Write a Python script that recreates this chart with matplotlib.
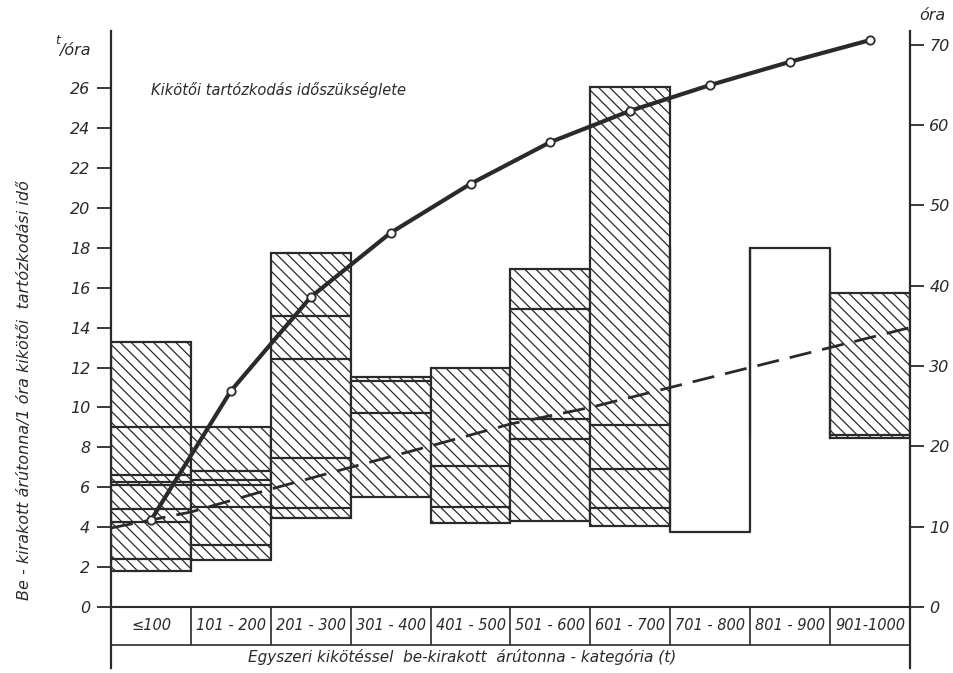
import matplotlib
matplotlib.use("Agg")
import matplotlib.pyplot as plt

plt.rcParams['font.family'] = ['DejaVu Sans']
plt.rcParams['font.style'] = 'italic'
plt.rcParams['hatch.linewidth'] = 0.9

# categories (t)
cats = ["≤100", "101 - 200", "201 - 300", "301 - 400", "401 - 500",
        "501 - 600", "601 - 700", "701 - 800", "801 - 900", "901-1000"]

# bars: low / high value (t/óra) and inner horizontal lines
bar_low = [1.8, 2.35, 4.45, 5.5, 4.2, 4.3, 4.05, 3.75, 8.45, 8.45]
bar_high = [13.3, 9.0, 17.75, 11.5, 12.0, 16.95, 26.05, 18.0, 18.0, 15.75]
bar_lines = [
    [2.4, 4.25, 4.9, 6.1, 6.25, 6.6, 9.0],
    [3.1, 5.0, 6.1, 6.35, 6.8],
    [4.95, 7.45, 12.45, 14.6],
    [9.7, 11.3],
    [5.0, 7.05],
    [8.4, 9.4, 14.95],
    [4.95, 6.9, 9.1],
    [],
    [],
    [8.6],
]
bar_hatched = [True, True, True, True, True, True, True, False, False, True]
bar_open = [None, None, None, None, None, None, None, "top", "bottom", None]

# port stay time need (óra) - right axis
stay_time = [10.8, 26.9, 38.6, 46.6, 52.7, 57.9, 61.8, 65.0, 67.9, 70.6]

# dashed line (t/óra) at category boundaries
dash_vals = [3.96, 4.76, 5.91, 7.0, 8.07, 9.17, 10.0, 11.0, 12.0, 13.0, 14.0]

ink = "#2a2a2a"

fig = plt.figure(figsize=(9.54, 6.73), dpi=100)
ax = fig.add_axes([111/954, 5/673, 799/954, 637/673])
ax.set_xlim(0, 10)
ax.set_ylim(-3.056, 28.86)

for i in range(len(cats)):
    lo, hi = bar_low[i], bar_high[i]
    if bar_hatched[i]:
        ax.bar(i, hi - lo, bottom=lo, width=1, align='edge', facecolor='white',
               edgecolor=ink, hatch='\\\\\\', linewidth=1.6, zorder=1)
    else:
        if bar_open[i] == "top":
            xs, ys = [i, i, i + 1, i + 1], [hi, lo, lo, hi]
        else:
            xs, ys = [i, i, i + 1, i + 1], [lo, hi, hi, lo]
        ax.plot(xs, ys, color=ink, lw=1.6, zorder=2)
    for v in bar_lines[i]:
        ax.hlines(v, i, i + 1, color=ink, lw=1.6, zorder=2)

# dashed line
ax.plot(range(len(dash_vals)), dash_vals, color=ink, lw=2.0,
        linestyle=(0, (8, 4)), zorder=3)

# bottom table
ax.hlines(0, 0, 10, color=ink, lw=1.5, zorder=2)
ax.hlines(-1.9, 0, 10, color=ink, lw=1.2, zorder=2)
for i in range(1, 10):
    ax.vlines(i, -1.9, 0, color=ink, lw=1.2)
for i, c in enumerate(cats):
    ax.text(i + 0.5, -0.95, c, ha='center', va='center', fontsize=10.5, color=ink)
ax.text(4.4, -2.5, "Egyszeri kikötéssel  be-kirakott  árútonna - kategória (t)",
        ha='center', va='center', fontsize=11, color=ink)

ax.set_xticks([])
ax.set_yticks(range(0, 27, 2))
ax.tick_params(axis='y', direction='out', length=10, width=1.3, pad=5,
               labelsize=11.5, colors=ink)
for s in ['top', 'bottom', 'right']:
    ax.spines[s].set_visible(False)
ax.spines['left'].set_linewidth(1.6)
ax.spines['left'].set_color(ink)

ax.text(0.5, 25.9, "Kikötői tartózkodás időszükséglete", ha='left', va='center',
        fontsize=10.5, color=ink)

# right axis with curve
ax2 = ax.twinx()
ax2.set_ylim(-7.6, 71.73)
ax2.plot([i + 0.5 for i in range(len(stay_time))], stay_time, color=ink, lw=3.0,
         marker='o', markersize=6, markerfacecolor='white', markeredgecolor=ink,
         markeredgewidth=1.3, zorder=4)
ax2.set_yticks(range(0, 71, 10))
ax2.tick_params(axis='y', direction='out', length=10, width=1.3, pad=4,
                labelsize=11.5, colors=ink)
for s in ['top', 'bottom', 'left']:
    ax2.spines[s].set_visible(False)
ax2.spines['right'].set_linewidth(1.6)
ax2.spines['right'].set_color(ink)
ax2.set_xticks([])

# axis titles
fig.text(58/954, 1 - 40/673, "t", fontsize=9, color=ink, ha='center', va='center')
fig.text(75/954, 1 - 50/673, "/óra", fontsize=11.5, color=ink, ha='center', va='center')
fig.text(932/954, 1 - 15/673, "óra", fontsize=11.5, color=ink, ha='center', va='center')
fig.text(25/954, 1 - 390/673,
         "Be - kirakott árútonna/1 óra kikötői  tartózkodási idő",
         rotation=90, fontsize=11.5, color=ink, ha='center', va='center')

fig.savefig("out.png", dpi=100, facecolor='white')
